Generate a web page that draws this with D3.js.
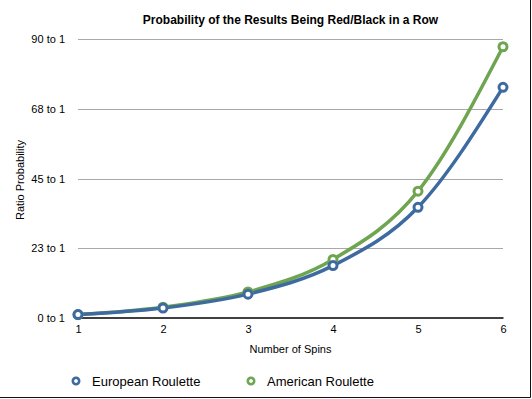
<!DOCTYPE html>
<meta charset='utf-8'>
<style>
  body { margin:0; background:#fff; }
  svg { font-family:'Liberation Sans', Arial, sans-serif; }
  .grid line { stroke:#a8a8a8; stroke-width:1px; }
  .tick text { fill:#000; }
</style>
<body>
  <div class='container'></div>
  <script src='https://cdn.jsdelivr.net/npm/d3@7'></script>
  <script>
    var spins = [1, 2, 3, 4, 5, 6];
    var european = [1.1, 3.2, 7.7, 16.9, 35.7, 74.4];
    var american = [1.1, 3.5, 8.4, 18.9, 40.9, 87.5];
    var yTicks = [0, 22.5, 45, 67.5, 90];
    var yTickLabels = ['0 to 1', '23 to 1', '45 to 1', '68 to 1', '90 to 1'];
    var seriesNames = ['European Roulette', 'American Roulette'];
    var colors = ['#3d6ba0', '#6fa550'];

    var width = 532;
    var height = 399;
    var plotLeft = 78, plotRight = 503, plotTop = 39, plotBottom = 318;

    var svg = d3.select('.container').append('svg')
      .attr('width', width)
      .attr('height', height);

    var x = d3.scaleLinear().domain([1, 6]).range([plotLeft, plotRight]);
    var y = d3.scaleLinear().domain([0, 90]).range([plotBottom, plotTop]);

    // frame (right + bottom edges only)
    svg.append('path')
      .attr('d', 'M' + (width - 1.5) + ',0V' + (height - 1.5) + 'H0')
      .attr('fill', 'none')
      .attr('stroke', '#111')
      .attr('stroke-width', 1);

    // title
    svg.append('text')
      .attr('x', (plotLeft + plotRight) / 2)
      .attr('y', 24)
      .attr('text-anchor', 'middle')
      .style('font-size', '12px')
      .style('font-weight', 'bold')
      .text('Probability of the Results Being Red/Black in a Row');

    // grid lines
    svg.append('g').attr('class', 'grid')
      .selectAll('line')
      .data(yTicks.slice(1))
      .enter().append('line')
      .attr('x1', plotLeft).attr('x2', plotRight)
      .attr('y1', function(d) { return Math.round(y(d)) + 0.5; })
      .attr('y2', function(d) { return Math.round(y(d)) + 0.5; });

    // y axis labels
    var yAxis = d3.axisLeft(y)
      .tickValues(yTicks)
      .tickSize(0)
      .tickPadding(13)
      .tickFormat(function(d, i) { return yTickLabels[i]; });
    var gy = svg.append('g')
      .attr('transform', 'translate(' + plotLeft + ',0)')
      .call(yAxis);
    gy.select('.domain').remove();
    gy.selectAll('text').style('font-size', '11px').style('font-family', "'Liberation Sans', Arial, sans-serif");

    // x axis
    var xAxis = d3.axisBottom(x)
      .tickValues(spins)
      .tickSize(0)
      .tickPadding(8)
      .tickFormat(d3.format('d'));
    var gx = svg.append('g')
      .attr('transform', 'translate(0,' + (plotBottom - 0.5) + ')')
      .call(xAxis);
    gx.select('.domain').attr('stroke', '#000').attr('stroke-width', 1.3);
    gx.selectAll('text').style('font-size', '11px').style('font-family', "'Liberation Sans', Arial, sans-serif");

    // axis titles
    svg.append('text')
      .attr('x', (plotLeft + plotRight) / 2)
      .attr('y', 353)
      .attr('text-anchor', 'middle')
      .style('font-size', '11px')
      .text('Number of Spins');

    svg.append('text')
      .attr('transform', 'translate(24,' + 180 + ') rotate(-90)')
      .attr('text-anchor', 'middle')
      .style('font-size', '11px')
      .text('Ratio Probability');

    // series
    var line = d3.line()
      .x(function(d, i) { return x(spins[i]); })
      .y(function(d) { return y(d); })
      .curve(d3.curveMonotoneX);

    var series = [european, american];
    // american first so european sits on top where they overlap
    [1, 0].forEach(function(k) {
      svg.append('path')
        .datum(series[k])
        .attr('d', line)
        .attr('fill', 'none')
        .attr('stroke', colors[k])
        .attr('stroke-width', 3.5);
    });
    [1, 0].forEach(function(k) {
      svg.append('g').selectAll('circle')
        .data(series[k])
        .enter().append('circle')
        .attr('cx', function(d, i) { return x(spins[i]); })
        .attr('cy', function(d) { return y(d); })
        .attr('r', 4)
        .attr('fill', '#fff')
        .attr('stroke', colors[k])
        .attr('stroke-width', 3);
    });

    // legend
    var legendX = [76, 251];
    var legend = svg.append('g').selectAll('g')
      .data(seriesNames)
      .enter().append('g')
      .attr('transform', function(d, i) { return 'translate(' + legendX[i] + ',381)'; });
    legend.append('circle')
      .attr('r', 3.2)
      .attr('fill', '#fff')
      .attr('stroke', function(d, i) { return colors[i]; })
      .attr('stroke-width', 2.6);
    legend.append('text')
      .attr('x', 16)
      .attr('dy', '0.35em')
      .style('font-size', '13px')
      .text(function(d) { return d; });
  </script>
</body>
